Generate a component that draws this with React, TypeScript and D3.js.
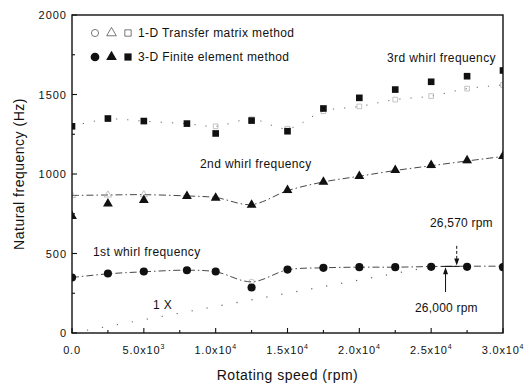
import * as d3 from "d3";

// rotating speed (rpm) of each computed point
const speeds = [0, 2500, 5000, 8000, 10000, 12500, 15000, 17500, 20000, 22500, 25000, 27500, 30000];

// 3-D finite element method (filled markers)
const fem1st = [349, 374, 387, 395, 387, 286, 399, 410, 414, 414, 416, 416, 414];
const fem2nd = [735, 814, 835, 860, 850, 806, 898, 950, 986, 1024, 1055, 1085, 1112];
const fem3rd = [1300, 1349, 1333, 1317, 1255, 1336, 1269, 1412, 1479, 1531, 1580, 1615, 1651];

// 1-D transfer matrix method (open markers + curves)
const tmm1st = [349, 372, 385, 395, 385, 322, 397, 410, 414, 414, 418, 420, 420];
const tmm2nd = [865, 868, 870, 862, 852, 808, 895, 950, 986, 1022, 1052, 1082, 1110];
const tmm3rd = [1300, 1345, 1332, 1316, 1300, 1345, 1285, 1395, 1425, 1468, 1490, 1537, 1560];

// 1X excitation line ends at crossing with the 1st whirl
const oneXSpeeds = [0, 26000];
const critLow = 26000;
const critHigh = 26570;

const xTicks = [0, 5000, 10000, 15000, 20000, 25000, 30000];
const xTickMant = ["0.0", "5.0x10", "1.0x10", "1.5x10", "2.0x10", "2.5x10", "3.0x10"];
const xTickExp = ["", "3", "4", "4", "4", "4", "4"];
const yTicks = [0, 500, 1000, 1500, 2000];

const W = 532;
const H = 385;
const margin = { top: 15, right: 29, bottom: 52, left: 72 };
const font = "'Liberation Sans', Arial, sans-serif";
const ink = "#111";

export default function App() {
  const x = d3.scaleLinear().domain([0, 30000]).range([margin.left, W - margin.right]);
  const y = d3.scaleLinear().domain([0, 2000]).range([H - margin.bottom, margin.top]);

  const curve = (vals: number[]) =>
    d3
      .line<number>()
      .x((_, i) => x(speeds[i]))
      .y((d) => y(d))
      .curve(d3.curveCatmullRom.alpha(0.5))(vals) || "";

  const sym = (type: d3.SymbolType, size: number) => d3.symbol().type(type).size(size)() || "";
  const shapes = [d3.symbolCircle, d3.symbolTriangle, d3.symbolSquare];
  const sizes = [52, 42, 44];
  const femSets = [fem1st, fem2nd, fem3rd];
  const tmmSets = [tmm1st, tmm2nd, tmm3rd];

  const x0 = x.range()[0];
  const x1 = x.range()[1];
  const y0 = y.range()[0];
  const y1 = y.range()[1];

  const minorX = d3.range(0, 30001, 2500);
  const minorY = d3.range(0, 2001, 250);

  const oneX = d3
    .line<number>()
    .x((d) => x(d))
    .y((d) => y(d / 60))(oneXSpeeds) || "";

  const txt = { fontFamily: font, fill: ink } as const;

  return (
    <svg width={W} height={H} style={{ position: "absolute", left: 0, top: 0, background: "#fff" }}>
      <defs>
        <clipPath id="plot">
          <rect x={x0} y={y1} width={x1 - x0} height={y0 - y1} />
        </clipPath>
      </defs>

      <g clipPath="url(#plot)">
        {/* 1X line */}
        <path d={oneX} fill="none" stroke="#666" strokeWidth={1.2} strokeDasharray="1.2,14" />

        {/* TMM curves */}
        <path d={curve(tmm1st)} fill="none" stroke="#333" strokeWidth={0.9} strokeDasharray="7,3,1.5,3" />
        <path d={curve(tmm2nd)} fill="none" stroke="#333" strokeWidth={0.9} strokeDasharray="7,3,1.5,3" />
        <path d={curve(tmm3rd)} fill="none" stroke="#666" strokeWidth={1} strokeDasharray="1.2,10" />

        {/* TMM open markers */}
        {tmmSets.map((vals, s) =>
          vals.map((v, i) => (
            <path
              key={`t${s}-${i}`}
              d={sym(shapes[s], 22)}
              transform={`translate(${x(speeds[i])},${y(v)})`}
              fill="none"
              stroke="#aaa"
              strokeWidth={0.7}
            />
          ))
        )}

        {/* FEM filled markers */}
        {femSets.map((vals, s) =>
          vals.map((v, i) => (
            <path
              key={`f${s}-${i}`}
              d={sym(shapes[s], sizes[s])}
              transform={`translate(${x(speeds[i])},${y(v)})`}
              fill={ink}
            />
          ))
        )}
      </g>

      {/* critical speed annotation */}
      <line x1={x(critLow) - 4} x2={x(critHigh) + 6} y1={y(419)} y2={y(419)} stroke={ink} strokeWidth={1} />
      <line x1={x(critLow)} x2={x(critLow)} y1={y(258)} y2={y(402)} stroke={ink} strokeWidth={1} />
      <path d={`M${x(critLow)},${y(414)} l-2.5,7 l5,0 z`} fill={ink} />
      <line
        x1={x(critHigh) + 3}
        x2={x(critHigh) + 3}
        y1={y(548)}
        y2={y(440)}
        stroke={ink}
        strokeWidth={1}
        strokeDasharray="3,2"
      />
      <path d={`M${x(critHigh) + 3},${y(424)} l-2.5,-7 l5,0 z`} fill={ink} />

      {/* frame */}
      <rect x={x0} y={y1} width={x1 - x0} height={y0 - y1} fill="none" stroke={ink} strokeWidth={1.4} />

      {/* ticks */}
      {minorX.map((t) => (
        <line
          key={`xt${t}`}
          x1={x(t)}
          x2={x(t)}
          y1={y0}
          y2={y0 - (t % 5000 === 0 ? 5 : 3)}
          stroke={ink}
          strokeWidth={1.1}
        />
      ))}
      {minorY.map((t) => (
        <line
          key={`yt${t}`}
          x1={x0}
          x2={x0 + (t % 500 === 0 ? 5 : 3)}
          y1={y(t)}
          y2={y(t)}
          stroke={ink}
          strokeWidth={1.1}
        />
      ))}

      {/* tick labels */}
      {xTicks.map((t, i) => (
        <text
          key={`xl${t}`}
          x={x(t)}
          y={y0 + 21}
          textAnchor="middle"
          fontSize={11}
          letterSpacing={0.8}
          {...txt}
        >
          {xTickMant[i]}
          {xTickExp[i] && (
            <tspan fontSize={7} dy={-5}>
              {xTickExp[i]}
            </tspan>
          )}
        </text>
      ))}
      {yTicks.map((t) => (
        <text
          key={`yl${t}`}
          x={x0 - 5}
          y={y(t) + 4}
          textAnchor="end"
          fontSize={11}
          letterSpacing={1}
          {...txt}
        >
          {t}
        </text>
      ))}

      {/* axis titles */}
      <text x={(x0 + x1) / 2} y={380} textAnchor="middle" fontSize={14} letterSpacing={0.5} {...txt}>
        Rotating speed (rpm)
      </text>
      <text
        transform={`translate(24,${(y0 + y1) / 2}) rotate(-90)`}
        textAnchor="middle"
        fontSize={14}
        letterSpacing={0.5}
        {...txt}
      >
        Natural frequency (Hz)
      </text>

      {/* legend */}
      {shapes.map((s, i) => (
        <g key={`lg${i}`}>
          <path
            d={sym(s, 40)}
            transform={`translate(${95 + i * 16.5},33)`}
            fill="none"
            stroke="#555"
            strokeWidth={0.8}
          />
          <path d={sym(s, sizes[i] + 8)} transform={`translate(${95 + i * 16.5},57)`} fill={ink} />
        </g>
      ))}
      <text x={138} y={37} fontSize={12} letterSpacing={0.4} {...txt}>
        1-D Transfer matrix method
      </text>
      <text x={138} y={61} fontSize={12} letterSpacing={0.4} {...txt}>
        3-D Finite element method
      </text>

      {/* curve labels */}
      <text x={387} y={62} fontSize={12} letterSpacing={0.4} {...txt}>
        3rd whirl frequency
      </text>
      <text x={200} y={168} fontSize={12} letterSpacing={0.4} {...txt}>
        2nd whirl frequency
      </text>
      <text x={93} y={256} fontSize={12} letterSpacing={0.4} {...txt}>
        1st whirl frequency
      </text>
      <text x={153} y={309} fontSize={12} letterSpacing={0.4} {...txt}>
        1 X
      </text>
      <text x={430} y={227} fontSize={12} letterSpacing={0.2} {...txt}>
        26,570 rpm
      </text>
      <text x={415} y={312} fontSize={12} letterSpacing={0.2} {...txt}>
        26,000 rpm
      </text>
    </svg>
  );
}
